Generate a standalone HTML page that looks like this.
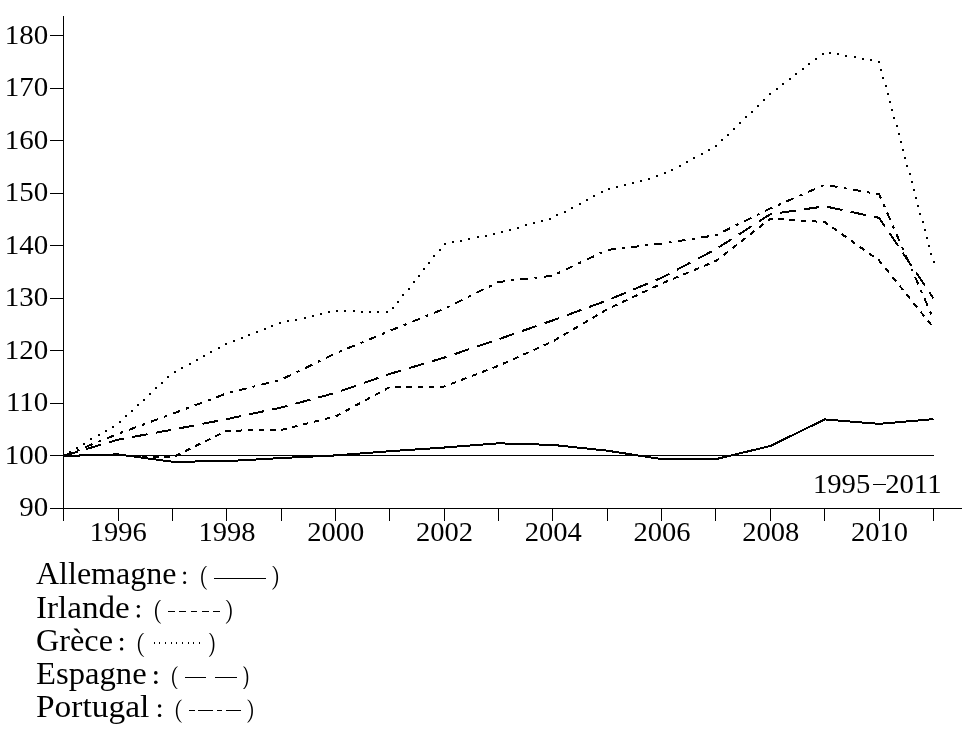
<!DOCTYPE html>
<html><head><meta charset="utf-8"><style>
html,body{margin:0;padding:0;background:#fff;}
body{width:972px;height:732px;overflow:hidden;}
svg{display:block;will-change:transform;}
</style></head><body>
<svg width="972" height="732" viewBox="0 0 972 732">
<g stroke="#000" stroke-width="1" fill="none" shape-rendering="crispEdges">
<line x1="63.5" y1="16" x2="63.5" y2="521"/>
<line x1="50" y1="508.5" x2="962" y2="508.5"/>
<line x1="50" y1="455.5" x2="63.5" y2="455.5"/>
<line x1="50" y1="403.5" x2="63.5" y2="403.5"/>
<line x1="50" y1="350.5" x2="63.5" y2="350.5"/>
<line x1="50" y1="298.5" x2="63.5" y2="298.5"/>
<line x1="50" y1="245.5" x2="63.5" y2="245.5"/>
<line x1="50" y1="193.5" x2="63.5" y2="193.5"/>
<line x1="50" y1="140.5" x2="63.5" y2="140.5"/>
<line x1="50" y1="88.5" x2="63.5" y2="88.5"/>
<line x1="50" y1="35.5" x2="63.5" y2="35.5"/>
<line x1="63.5" y1="508.5" x2="63.5" y2="521"/>
<line x1="118.5" y1="508.5" x2="118.5" y2="521"/>
<line x1="172.5" y1="508.5" x2="172.5" y2="521"/>
<line x1="226.5" y1="508.5" x2="226.5" y2="521"/>
<line x1="281.5" y1="508.5" x2="281.5" y2="521"/>
<line x1="335.5" y1="508.5" x2="335.5" y2="521"/>
<line x1="389.5" y1="508.5" x2="389.5" y2="521"/>
<line x1="444.5" y1="508.5" x2="444.5" y2="521"/>
<line x1="498.5" y1="508.5" x2="498.5" y2="521"/>
<line x1="552.5" y1="508.5" x2="552.5" y2="521"/>
<line x1="607.5" y1="508.5" x2="607.5" y2="521"/>
<line x1="661.5" y1="508.5" x2="661.5" y2="521"/>
<line x1="715.5" y1="508.5" x2="715.5" y2="521"/>
<line x1="770.5" y1="508.5" x2="770.5" y2="521"/>
<line x1="824.5" y1="508.5" x2="824.5" y2="521"/>
<line x1="879.5" y1="508.5" x2="879.5" y2="521"/>
<line x1="933.5" y1="508.5" x2="933.5" y2="521"/>
<line x1="63.5" y1="455.5" x2="934" y2="455.5"/>
<line x1="873" y1="484.5" x2="886" y2="484.5"/>
</g>
<g font-family='"Liberation Serif", serif' font-size="27.6" fill="#000">
<text transform="translate(48.30,515.50) scale(1.05,1)" text-anchor="end">90</text>
<text transform="translate(48.30,463.50) scale(1.05,1)" text-anchor="end">100</text>
<text transform="translate(48.30,410.50) scale(1.05,1)" text-anchor="end">110</text>
<text transform="translate(48.30,358.50) scale(1.05,1)" text-anchor="end">120</text>
<text transform="translate(48.30,305.50) scale(1.05,1)" text-anchor="end">130</text>
<text transform="translate(48.30,253.50) scale(1.05,1)" text-anchor="end">140</text>
<text transform="translate(48.30,200.50) scale(1.05,1)" text-anchor="end">150</text>
<text transform="translate(48.30,148.50) scale(1.05,1)" text-anchor="end">160</text>
<text transform="translate(48.30,95.50) scale(1.05,1)" text-anchor="end">170</text>
<text transform="translate(48.30,43.50) scale(1.05,1)" text-anchor="end">180</text>
<text transform="translate(118.28,540.50) scale(1.035,1)" text-anchor="middle">1996</text>
<text transform="translate(227.03,540.50) scale(1.035,1)" text-anchor="middle">1998</text>
<text transform="translate(335.77,540.50) scale(1.035,1)" text-anchor="middle">2000</text>
<text transform="translate(444.52,540.50) scale(1.035,1)" text-anchor="middle">2002</text>
<text transform="translate(553.27,540.50) scale(1.035,1)" text-anchor="middle">2004</text>
<text transform="translate(662.02,540.50) scale(1.035,1)" text-anchor="middle">2006</text>
<text transform="translate(770.77,540.50) scale(1.035,1)" text-anchor="middle">2008</text>
<text transform="translate(879.52,540.50) scale(1.035,1)" text-anchor="middle">2010</text>
<text transform="translate(870.30,492.50) scale(1.04,1)" text-anchor="end">1995</text>
<text transform="translate(941.50,492.50) scale(1.04,1)" text-anchor="end">2011</text>
</g>
<g fill="none" stroke="#000" stroke-linejoin="miter" stroke-linecap="butt" shape-rendering="crispEdges">
<polyline points="63.50,455.94 117.88,454.37 172.25,461.73 226.62,461.20 281.00,458.05 335.38,455.42 389.75,451.21 444.12,447.54 498.50,443.33 552.88,444.91 607.25,450.69 661.62,459.10 716.00,459.10 770.38,445.96 824.75,419.42 879.12,423.88 933.50,419.15" stroke-width="2"/>
<polyline points="63.50,455.94 117.88,454.89 172.25,457.52 226.62,430.72 281.00,429.93 335.38,416.53 389.75,387.10 444.12,386.57 498.50,365.81 552.88,341.37 607.25,309.31 661.62,283.56 716.00,260.96 770.38,218.65 824.75,222.07 879.12,260.44 933.50,327.71" stroke-width="2" stroke-dasharray="5.6 5.6"/>
</g>
<g fill="#000">
<rect x="933" y="261" width="2" height="2"/>
<rect x="930" y="253" width="2" height="2"/>
<rect x="928" y="245" width="2" height="2"/>
<rect x="926" y="237" width="2" height="2"/>
<rect x="924" y="229" width="2" height="2"/>
<rect x="922" y="221" width="2" height="2"/>
<rect x="919" y="213" width="2" height="2"/>
<rect x="917" y="205" width="2" height="2"/>
<rect x="915" y="197" width="2" height="2"/>
<rect x="913" y="189" width="2" height="2"/>
<rect x="911" y="181" width="2" height="2"/>
<rect x="909" y="173" width="2" height="2"/>
<rect x="906" y="165" width="2" height="2"/>
<rect x="904" y="157" width="2" height="2"/>
<rect x="902" y="149" width="2" height="2"/>
<rect x="900" y="141" width="2" height="2"/>
<rect x="898" y="133" width="2" height="2"/>
<rect x="896" y="125" width="2" height="2"/>
<rect x="893" y="117" width="2" height="2"/>
<rect x="891" y="109" width="2" height="2"/>
<rect x="889" y="101" width="2" height="2"/>
<rect x="887" y="93" width="2" height="2"/>
<rect x="885" y="85" width="2" height="2"/>
<rect x="882" y="77" width="2" height="2"/>
<rect x="880" y="69" width="2" height="2"/>
<rect x="878" y="61" width="2" height="2"/>
<rect x="870" y="59" width="2" height="2"/>
<rect x="862" y="58" width="2" height="2"/>
<rect x="854" y="56" width="2" height="2"/>
<rect x="845" y="55" width="2" height="2"/>
<rect x="837" y="53" width="2" height="2"/>
<rect x="829" y="52" width="2" height="2"/>
<rect x="822" y="53" width="2" height="2"/>
<rect x="815" y="58" width="2" height="2"/>
<rect x="808" y="63" width="2" height="2"/>
<rect x="802" y="68" width="2" height="2"/>
<rect x="795" y="73" width="2" height="2"/>
<rect x="789" y="78" width="2" height="2"/>
<rect x="782" y="83" width="2" height="2"/>
<rect x="776" y="88" width="2" height="2"/>
<rect x="769" y="93" width="2" height="2"/>
<rect x="763" y="99" width="2" height="2"/>
<rect x="757" y="105" width="2" height="2"/>
<rect x="751" y="111" width="2" height="2"/>
<rect x="745" y="116" width="2" height="2"/>
<rect x="739" y="122" width="2" height="2"/>
<rect x="733" y="128" width="2" height="2"/>
<rect x="727" y="134" width="2" height="2"/>
<rect x="721" y="139" width="2" height="2"/>
<rect x="715" y="145" width="2" height="2"/>
<rect x="708" y="149" width="2" height="2"/>
<rect x="701" y="153" width="2" height="2"/>
<rect x="693" y="157" width="2" height="2"/>
<rect x="686" y="161" width="2" height="2"/>
<rect x="679" y="165" width="2" height="2"/>
<rect x="671" y="169" width="2" height="2"/>
<rect x="664" y="172" width="2" height="2"/>
<rect x="656" y="175" width="2" height="2"/>
<rect x="648" y="178" width="2" height="2"/>
<rect x="640" y="180" width="2" height="2"/>
<rect x="632" y="182" width="2" height="2"/>
<rect x="624" y="184" width="2" height="2"/>
<rect x="616" y="186" width="2" height="2"/>
<rect x="608" y="188" width="2" height="2"/>
<rect x="601" y="191" width="2" height="2"/>
<rect x="593" y="195" width="2" height="2"/>
<rect x="586" y="199" width="2" height="2"/>
<rect x="579" y="203" width="2" height="2"/>
<rect x="571" y="207" width="2" height="2"/>
<rect x="564" y="211" width="2" height="2"/>
<rect x="556" y="214" width="2" height="2"/>
<rect x="549" y="218" width="2" height="2"/>
<rect x="541" y="220" width="2" height="2"/>
<rect x="533" y="222" width="2" height="2"/>
<rect x="525" y="224" width="2" height="2"/>
<rect x="517" y="227" width="2" height="2"/>
<rect x="509" y="229" width="2" height="2"/>
<rect x="501" y="231" width="2" height="2"/>
<rect x="493" y="233" width="2" height="2"/>
<rect x="485" y="235" width="2" height="2"/>
<rect x="477" y="236" width="2" height="2"/>
<rect x="468" y="238" width="2" height="2"/>
<rect x="460" y="240" width="2" height="2"/>
<rect x="452" y="241" width="2" height="2"/>
<rect x="444" y="243" width="2" height="2"/>
<rect x="439" y="249" width="2" height="2"/>
<rect x="433" y="255" width="2" height="2"/>
<rect x="428" y="262" width="2" height="2"/>
<rect x="423" y="268" width="2" height="2"/>
<rect x="418" y="275" width="2" height="2"/>
<rect x="413" y="281" width="2" height="2"/>
<rect x="408" y="288" width="2" height="2"/>
<rect x="402" y="294" width="2" height="2"/>
<rect x="397" y="301" width="2" height="2"/>
<rect x="392" y="307" width="2" height="2"/>
<rect x="386" y="311" width="2" height="2"/>
<rect x="377" y="311" width="2" height="2"/>
<rect x="369" y="311" width="2" height="2"/>
<rect x="361" y="311" width="2" height="2"/>
<rect x="353" y="310" width="2" height="2"/>
<rect x="344" y="310" width="2" height="2"/>
<rect x="336" y="310" width="2" height="2"/>
<rect x="328" y="311" width="2" height="2"/>
<rect x="320" y="313" width="2" height="2"/>
<rect x="312" y="315" width="2" height="2"/>
<rect x="304" y="317" width="2" height="2"/>
<rect x="295" y="319" width="2" height="2"/>
<rect x="287" y="320" width="2" height="2"/>
<rect x="279" y="322" width="2" height="2"/>
<rect x="271" y="325" width="2" height="2"/>
<rect x="264" y="328" width="2" height="2"/>
<rect x="256" y="331" width="2" height="2"/>
<rect x="248" y="334" width="2" height="2"/>
<rect x="241" y="337" width="2" height="2"/>
<rect x="233" y="340" width="2" height="2"/>
<rect x="225" y="343" width="2" height="2"/>
<rect x="218" y="347" width="2" height="2"/>
<rect x="210" y="351" width="2" height="2"/>
<rect x="203" y="355" width="2" height="2"/>
<rect x="196" y="359" width="2" height="2"/>
<rect x="189" y="363" width="2" height="2"/>
<rect x="181" y="367" width="2" height="2"/>
<rect x="174" y="371" width="2" height="2"/>
<rect x="167" y="376" width="2" height="2"/>
<rect x="161" y="382" width="2" height="2"/>
<rect x="155" y="387" width="2" height="2"/>
<rect x="149" y="393" width="2" height="2"/>
<rect x="143" y="399" width="2" height="2"/>
<rect x="137" y="404" width="2" height="2"/>
<rect x="131" y="410" width="2" height="2"/>
<rect x="125" y="415" width="2" height="2"/>
<rect x="119" y="421" width="2" height="2"/>
<rect x="112" y="426" width="2" height="2"/>
<rect x="105" y="430" width="2" height="2"/>
<rect x="98" y="434" width="2" height="2"/>
<rect x="90" y="438" width="2" height="2"/>
<rect x="83" y="443" width="2" height="2"/>
<rect x="76" y="447" width="2" height="2"/>
<rect x="69" y="451" width="2" height="2"/>
</g>
<g fill="none" stroke="#000" stroke-linejoin="miter" stroke-linecap="butt" shape-rendering="crispEdges">
<polyline points="63.50,455.94 117.88,439.65 172.25,429.67 226.62,419.15 281.00,407.59 335.38,392.88 389.75,373.96 444.12,357.66 498.50,339.27 552.88,320.35 607.25,300.38 661.62,277.78 716.00,249.14 770.38,214.19 824.75,206.30 879.12,217.87 933.50,298.28" stroke-width="2" stroke-dasharray="15.5 8.3"/>
<polyline points="63.50,455.94 117.88,433.87 172.25,413.90 226.62,393.40 281.00,379.74 335.38,353.46 389.75,330.86 444.12,308.79 498.50,281.98 552.88,275.68 607.25,249.92 661.62,243.62 716.00,235.21 770.38,208.41 824.75,184.76 879.12,194.22 933.50,319.30" stroke-width="2" stroke-dasharray="8 6.2 3 6.2"/>
</g>
<g font-family='"Liberation Serif", serif' font-size="32" fill="#000">
<text transform="translate(36,584) scale(1.0,1)">Allemagne</text>
<text transform="translate(36,617.6) scale(1.034,1)">Irlande</text>
<text transform="translate(36,650.5) scale(1.008,1)">Gr&#232;ce</text>
<text transform="translate(36,683.9) scale(1.021,1)">Espagne</text>
<text transform="translate(36,717) scale(1.045,1)">Portugal</text>
</g>
<g fill="#000" stroke="none">
<circle cx="184.60" cy="582.40" r="1.50"/><circle cx="184.60" cy="573.00" r="1.50"/>
<path d="M206.10,566.00 C199.57,569.74 199.57,585.66 206.10,589.40 L207.20,589.40 C201.33,585.66 201.33,569.74 207.20,566.00 Z"/>
<path d="M273.10,566.00 C279.77,569.74 279.77,585.66 273.10,589.40 L272.00,589.40 C278.00,585.66 278.00,569.74 272.00,566.00 Z"/>
<circle cx="138.35" cy="616.00" r="1.65"/><circle cx="138.35" cy="606.60" r="1.65"/>
<path d="M160.10,600.10 C153.43,603.84 153.43,619.76 160.10,623.50 L161.20,623.50 C155.20,619.76 155.20,603.84 161.20,600.10 Z"/>
<path d="M226.70,600.10 C233.50,603.84 233.50,619.76 226.70,623.50 L225.60,623.50 C231.73,619.76 231.73,603.84 225.60,600.10 Z"/>
<circle cx="121.60" cy="648.90" r="1.70"/><circle cx="121.60" cy="639.50" r="1.70"/>
<path d="M143.20,633.10 C136.13,636.88 136.13,652.92 143.20,656.70 L144.30,656.70 C137.90,652.92 137.90,636.88 144.30,633.10 Z"/>
<path d="M209.90,633.10 C216.03,636.88 216.03,652.92 209.90,656.70 L208.80,656.70 C214.27,652.92 214.27,636.88 208.80,633.10 Z"/>
<circle cx="155.80" cy="682.30" r="1.80"/><circle cx="155.80" cy="672.90" r="1.80"/>
<path d="M177.00,666.40 C170.47,670.03 170.47,685.47 177.00,689.10 L178.10,689.10 C172.23,685.47 172.23,670.03 178.10,666.40 Z"/>
<path d="M244.10,666.40 C249.70,670.03 249.70,685.47 244.10,689.10 L243.00,689.10 C247.93,685.47 247.93,670.03 243.00,666.40 Z"/>
<circle cx="159.60" cy="715.40" r="1.70"/><circle cx="159.60" cy="706.00" r="1.70"/>
<path d="M181.10,699.80 C174.17,703.43 174.17,718.87 181.10,722.50 L182.20,722.50 C175.93,718.87 175.93,703.43 182.20,699.80 Z"/>
<path d="M248.10,699.80 C254.63,703.43 254.63,718.87 248.10,722.50 L247.00,722.50 C252.87,718.87 252.87,703.43 247.00,699.80 Z"/>
</g>
<g stroke="#000" stroke-width="1" shape-rendering="crispEdges">
<line x1="214" y1="578.5" x2="266" y2="578.5"/>
<line x1="168" y1="611.5" x2="175" y2="611.5"/>
<line x1="179" y1="611.5" x2="186" y2="611.5"/>
<line x1="191" y1="611.5" x2="197" y2="611.5"/>
<line x1="202" y1="611.5" x2="209" y2="611.5"/>
<line x1="213" y1="611.5" x2="220" y2="611.5"/>
<line x1="185" y1="677.5" x2="206" y2="677.5"/>
<line x1="215" y1="677.5" x2="237" y2="677.5"/>
<line x1="189" y1="710.5" x2="195" y2="710.5"/>
<line x1="198" y1="710.5" x2="213" y2="710.5"/>
<line x1="217" y1="710.5" x2="222" y2="710.5"/>
<line x1="226" y1="710.5" x2="241" y2="710.5"/>
</g>
<g fill="#000">
<rect x="154" y="642" width="1" height="2"/>
<rect x="159" y="642" width="1" height="2"/>
<rect x="165" y="642" width="1" height="2"/>
<rect x="171" y="642" width="1" height="2"/>
<rect x="176" y="642" width="1" height="2"/>
<rect x="182" y="642" width="1" height="2"/>
<rect x="188" y="642" width="1" height="2"/>
<rect x="193" y="642" width="1" height="2"/>
<rect x="199" y="642" width="1" height="2"/>
</g>
</svg>
</body></html>
